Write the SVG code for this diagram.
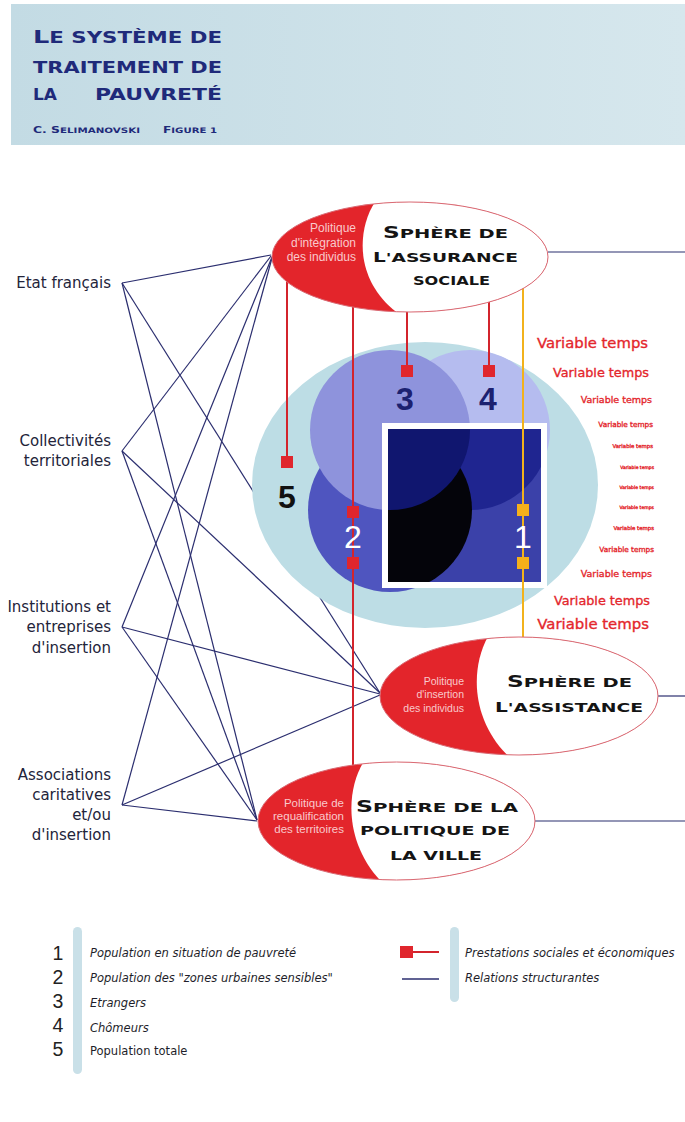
<svg xmlns="http://www.w3.org/2000/svg" width="685" height="1122" viewBox="0 0 685 1122">
<style>
.lbl{font-family:"DejaVu Sans",sans-serif;font-size:15px;fill:#23243a;text-anchor:end}
.vt{font-family:"DejaVu Sans",sans-serif;fill:#e4262c;stroke:#e4262c;stroke-width:0.35;text-anchor:end}
.cap{font-family:"DejaVu Sans",sans-serif;font-weight:bold;fill:#141414}
.ttl{font-family:"DejaVu Sans",sans-serif;font-weight:bold;fill:#1f2a7a}
.pol{font-family:"Liberation Sans",sans-serif;fill:#f9c9cb;text-anchor:end}
.rel line{stroke:#2b2e6f;stroke-width:1.2}
.red{stroke:#d3242c;stroke-width:2}
.yel{stroke:#f2b21c;stroke-width:2}
.mk{fill:#e0262d}
.my{fill:#f5b01a}
.edge{fill:none;stroke:#d96a74;stroke-width:1}
.num{font-family:"Liberation Sans",sans-serif;font-size:32px;text-anchor:middle}
.lg{font-family:"DejaVu Sans",sans-serif;font-size:11.5px;fill:#1e1e2a;font-style:italic}
.lgu{font-family:"DejaVu Sans",sans-serif;font-size:11.5px;fill:#1e1e2a;font-style:normal}
.lgn{font-family:"Liberation Sans",sans-serif;font-size:19.5px;fill:#222;text-anchor:middle}
</style>
<defs>
<linearGradient id="band" x1="0" y1="0" x2="1" y2="0">
<stop offset="0" stop-color="#c3dbe4"/>
<stop offset="1" stop-color="#d6e7ed"/>
</linearGradient>
<clipPath id="cTop"><ellipse cx="410" cy="257" rx="138" ry="55"/></clipPath>
<clipPath id="cAss"><ellipse cx="519" cy="696" rx="139" ry="59"/></clipPath>
<clipPath id="cVil"><ellipse cx="396.5" cy="821" rx="138.5" ry="59"/></clipPath>
<clipPath id="cSq"><rect x="388" y="429" width="153" height="153"/></clipPath>
</defs>
<rect width="685" height="1122" fill="#ffffff"/>

<g id="header">
<rect x="11" y="4" width="674" height="141" fill="url(#band)"/>
<text class="ttl" x="33" y="43" textLength="189" lengthAdjust="spacingAndGlyphs"><tspan font-size="18">L</tspan><tspan font-size="15">E SYSTÈME DE</tspan></text>
<text class="ttl" x="33" y="73" font-size="15" textLength="189" lengthAdjust="spacingAndGlyphs">TRAITEMENT DE</text>
<text class="ttl" x="33" y="100" font-size="15" textLength="24" lengthAdjust="spacingAndGlyphs">LA</text>
<text class="ttl" x="95" y="100" font-size="15" textLength="127" lengthAdjust="spacingAndGlyphs">PAUVRETÉ</text>
<text class="ttl" x="33" y="133" textLength="107" lengthAdjust="spacingAndGlyphs"><tspan font-size="9">C. S</tspan><tspan font-size="7.5">ELIMANOVSKI</tspan></text>
<text class="ttl" x="163" y="133" textLength="54" lengthAdjust="spacingAndGlyphs"><tspan font-size="9">F</tspan><tspan font-size="7.5">IGURE 1</tspan></text>
</g>

<g id="connectors" class="rel">
<line x1="122" y1="283" x2="271" y2="255"/>
<line x1="122" y1="283" x2="380" y2="693"/>
<line x1="122" y1="283" x2="257" y2="820"/>
<line x1="122" y1="451" x2="271" y2="256"/>
<line x1="122" y1="451" x2="380" y2="693"/>
<line x1="122" y1="451" x2="257" y2="820"/>
<line x1="122" y1="627" x2="272" y2="257"/>
<line x1="122" y1="627" x2="380" y2="694"/>
<line x1="122" y1="627" x2="257" y2="820"/>
<line x1="122" y1="805" x2="272" y2="258"/>
<line x1="122" y1="805" x2="380" y2="695"/>
<line x1="122" y1="805" x2="257" y2="821"/>
<line x1="548" y1="252" x2="685" y2="252"/>
<line x1="658" y1="696" x2="685" y2="696"/>
<line x1="535" y1="821" x2="685" y2="821"/>
</g>

<g id="population-5">
<ellipse cx="425" cy="485" rx="173" ry="143" fill="#bddde5"/>
</g>
<g id="population-4"><circle cx="470" cy="430" r="80" fill="#b5bcef"/></g>
<g id="population-2"><circle cx="390" cy="510" r="82" fill="#4f55bf"/></g>
<g id="population-3"><circle cx="390" cy="430" r="80" fill="#8e93dc"/></g>
<g id="population-1">
<rect x="382" y="423" width="165" height="165" fill="#ffffff"/>
<rect x="388" y="429" width="153" height="153" fill="#3b41a9"/>
<g clip-path="url(#cSq)">
<circle cx="470" cy="430" r="80" fill="#1f2590"/>
<circle cx="390" cy="510" r="82" fill="#04040a"/>
<circle cx="390" cy="430" r="80" fill="#10166f"/>
</g>
</g>

<g id="prestations">
<line class="red" x1="287" y1="262" x2="287" y2="462"/>
<line class="red" x1="353" y1="262" x2="353" y2="800"/>
<line class="red" x1="407" y1="262" x2="407" y2="371"/>
<line class="red" x1="489" y1="262" x2="489" y2="371"/>
<line class="yel" x1="523" y1="262" x2="523" y2="690"/>
</g>

<g id="sphere-assurance">
<ellipse cx="410" cy="257" rx="138" ry="55" fill="#e3252b"/>
<path d="M380,195 C355,225 352,285 405,318 L560,318 L560,195 Z" fill="#ffffff" clip-path="url(#cTop)"/>
<ellipse class="edge" cx="410" cy="257" rx="138" ry="55"/>
<text class="pol" font-size="12" x="356" y="232">Politique</text>
<text class="pol" font-size="12" x="356" y="247">d'intégration</text>
<text class="pol" font-size="12" x="356" y="261">des individus</text>
<text class="cap" x="383" y="238" textLength="125" lengthAdjust="spacingAndGlyphs"><tspan font-size="15.5">S</tspan><tspan font-size="13">PHÈRE DE</tspan></text>
<text class="cap" x="373" y="262" textLength="145" lengthAdjust="spacingAndGlyphs"><tspan font-size="14">L</tspan><tspan font-size="13">'ASSURANCE</tspan></text>
<text class="cap" x="413" y="285" font-size="13" textLength="77" lengthAdjust="spacingAndGlyphs">SOCIALE</text>
</g>

<g id="sphere-assistance">
<ellipse cx="519" cy="696" rx="139" ry="59" fill="#e3252b"/>
<path d="M492,630 C468,665 470,725 515,762 L670,762 L670,630 Z" fill="#ffffff" clip-path="url(#cAss)"/>
<ellipse class="edge" cx="519" cy="696" rx="139" ry="59"/>
<text class="pol" font-size="10.5" x="464" y="685">Politique</text>
<text class="pol" font-size="10.5" x="464" y="698">d'insertion</text>
<text class="pol" font-size="10.5" x="464" y="712">des individus</text>
<text class="cap" x="507" y="687" textLength="125" lengthAdjust="spacingAndGlyphs"><tspan font-size="15.5">S</tspan><tspan font-size="13">PHÈRE DE</tspan></text>
<text class="cap" x="495" y="712" textLength="148" lengthAdjust="spacingAndGlyphs"><tspan font-size="14">L</tspan><tspan font-size="13">'ASSISTANCE</tspan></text>
</g>

<g id="sphere-ville">
<ellipse cx="396.5" cy="821" rx="138.5" ry="59" fill="#e3252b"/>
<path d="M368,755 C342,790 345,850 388,888 L545,888 L545,755 Z" fill="#ffffff" clip-path="url(#cVil)"/>
<ellipse class="edge" cx="396.5" cy="821" rx="138.5" ry="59"/>
<text class="pol" font-size="11.5" x="344" y="807">Politique de</text>
<text class="pol" font-size="11.5" x="344" y="820">requalification</text>
<text class="pol" font-size="11.5" x="344" y="833">des territoires</text>
<text class="cap" x="356" y="812" textLength="162" lengthAdjust="spacingAndGlyphs"><tspan font-size="15.5">S</tspan><tspan font-size="13">PHÈRE DE LA</tspan></text>
<text class="cap" x="360" y="835" font-size="13" textLength="150" lengthAdjust="spacingAndGlyphs">POLITIQUE DE</text>
<text class="cap" x="390" y="860" font-size="13" textLength="92" lengthAdjust="spacingAndGlyphs">LA VILLE</text>
</g>

<g id="markers">
<rect class="mk" x="281" y="456" width="12" height="12"/>
<rect class="mk" x="347" y="506" width="12" height="12"/>
<rect class="mk" x="347" y="557" width="12" height="12"/>
<rect class="mk" x="401" y="365" width="12" height="12"/>
<rect class="mk" x="483" y="365" width="12" height="12"/>
<rect class="my" x="517" y="504" width="12" height="12"/>
<rect class="my" x="517" y="557" width="12" height="12"/>
</g>

<g id="numbers">
<text class="num" x="405" y="410" fill="#1c2170" font-weight="bold">3</text>
<text class="num" x="488" y="410" fill="#1c2170" font-weight="bold">4</text>
<text class="num" x="287" y="508" fill="#111111" font-weight="bold">5</text>
<text class="num" x="353" y="548" fill="#ffffff">2</text>
<text class="num" x="523" y="548" fill="#ffffff">1</text>
</g>

<g id="variable-temps">
<text class="vt" x="648" y="348" font-size="14.8">Variable temps</text>
<text class="vt" x="649" y="377" font-size="12.8">Variable temps</text>
<text class="vt" x="652" y="403" font-size="9.5">Variable temps</text>
<text class="vt" x="653" y="427" font-size="7.3">Variable temps</text>
<text class="vt" x="653" y="448" font-size="5.4">Variable temps</text>
<text class="vt" x="654" y="469" font-size="4.5">Variable temps</text>
<text class="vt" x="654" y="489" font-size="4.6">Variable temps</text>
<text class="vt" x="654" y="509" font-size="4.6">Variable temps</text>
<text class="vt" x="654" y="530" font-size="5.4">Variable temps</text>
<text class="vt" x="654" y="552" font-size="7.3">Variable temps</text>
<text class="vt" x="652" y="577" font-size="9.5">Variable temps</text>
<text class="vt" x="650" y="605" font-size="12.8">Variable temps</text>
<text class="vt" x="649" y="629" font-size="14.9">Variable temps</text>
</g>

<g id="etat">
<text class="lbl" x="111" y="288">Etat français</text>
</g>
<g id="collectivites">
<text class="lbl" x="111" y="446">Collectivités</text>
<text class="lbl" x="111" y="466">territoriales</text>
</g>
<g id="institutions">
<text class="lbl" x="111" y="612">Institutions et</text>
<text class="lbl" x="111" y="632">entreprises</text>
<text class="lbl" x="111" y="653">d'insertion</text>
</g>
<g id="associations">
<text class="lbl" x="111" y="780">Associations</text>
<text class="lbl" x="111" y="800">caritatives</text>
<text class="lbl" x="111" y="820">et/ou</text>
<text class="lbl" x="111" y="840">d'insertion</text>
</g>

<g id="legend">
<rect x="73" y="927" width="9" height="147" rx="4.5" fill="#c9e0e8"/>
<text class="lgn" x="58" y="960">1</text>
<text class="lgn" x="58" y="984">2</text>
<text class="lgn" x="58" y="1008">3</text>
<text class="lgn" x="58" y="1032">4</text>
<text class="lgn" x="58" y="1056">5</text>
<text class="lg" x="90" y="957">Population en situation de pauvreté</text>
<text class="lg" x="90" y="982">Population des "zones urbaines sensibles"</text>
<text class="lg" x="90" y="1007">Etrangers</text>
<text class="lg" x="90" y="1032">Chômeurs</text>
<text class="lgu" x="90" y="1055">Population totale</text>
<rect x="450" y="927" width="9" height="75" rx="4.5" fill="#c9e0e8"/>
<line class="red" x1="406" y1="952" x2="439" y2="952"/>
<rect class="mk" x="400" y="946" width="13" height="12"/>
<line x1="402" y1="979" x2="439" y2="979" stroke="#2b2e6f" stroke-width="1.5"/>
<text class="lg" x="465" y="957">Prestations sociales et économiques</text>
<text class="lg" x="465" y="982">Relations structurantes</text>
</g>
</svg>
